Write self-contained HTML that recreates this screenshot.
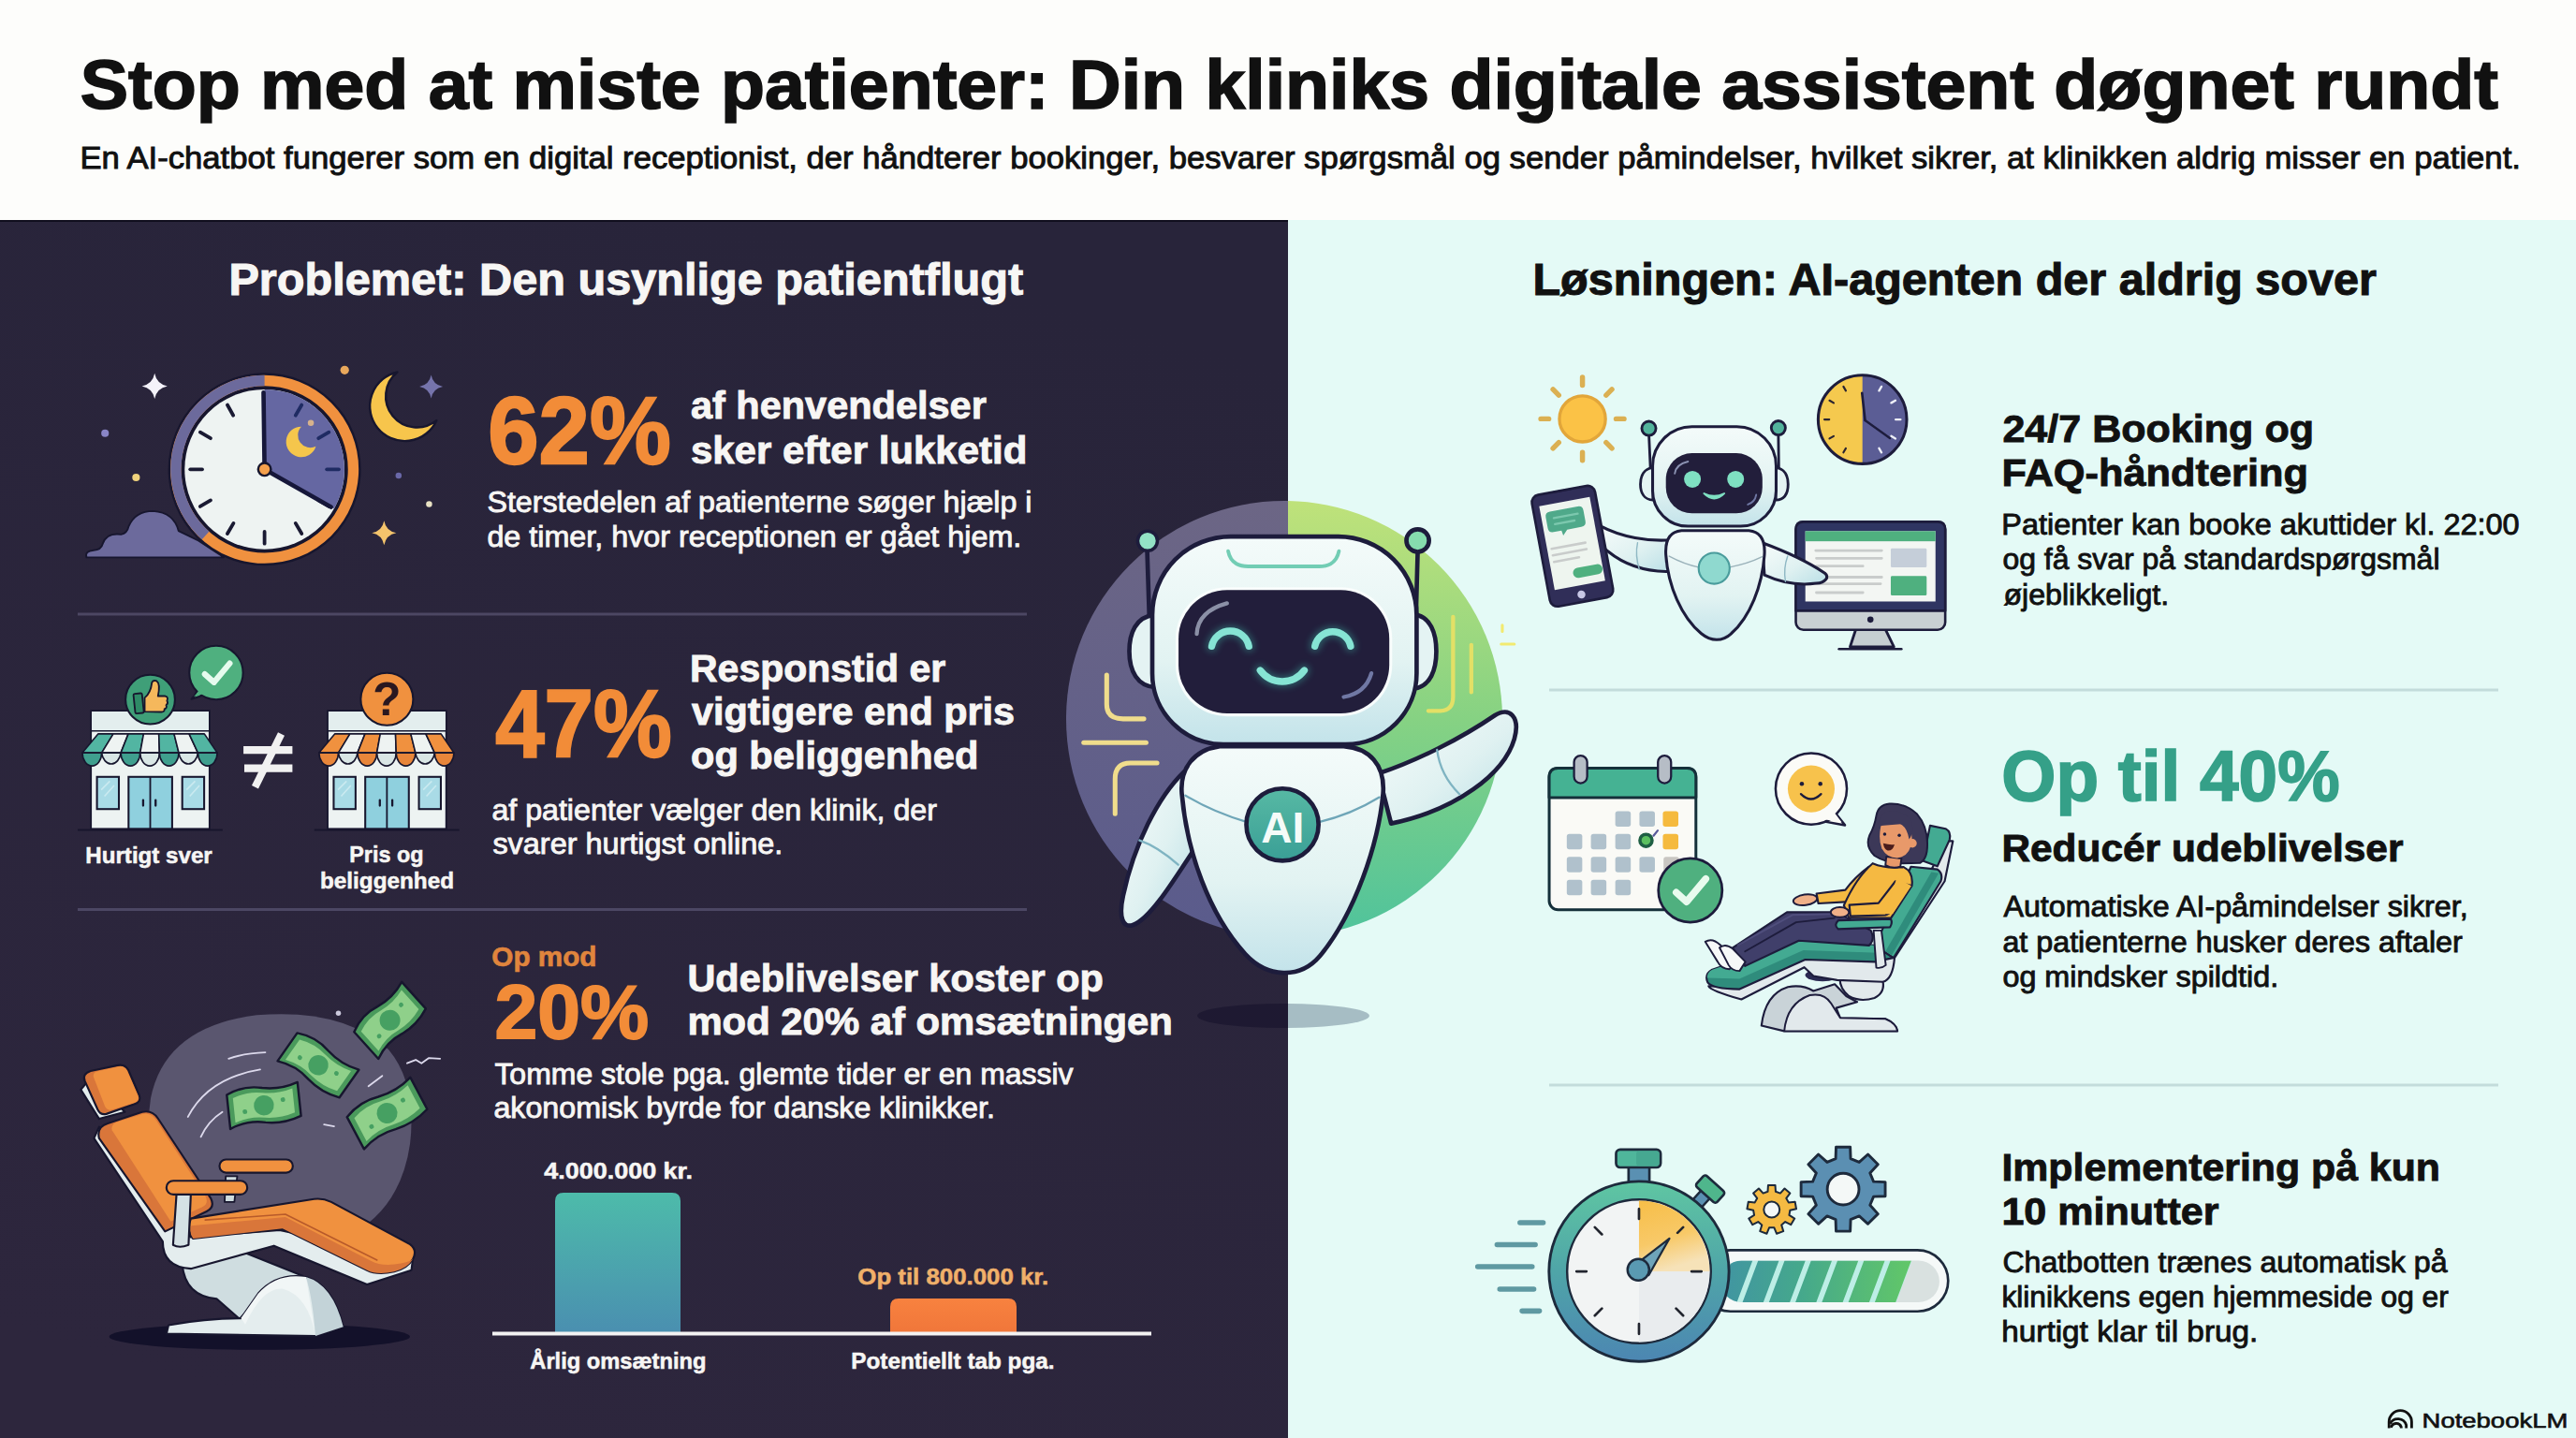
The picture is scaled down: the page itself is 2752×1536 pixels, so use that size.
<!DOCTYPE html>
<html lang="da"><head><meta charset="utf-8"><title>Stop med at miste patienter</title>
<style>
html,body{margin:0;padding:0;background:#fdfdfb;}
body{width:2752px;height:1536px;overflow:hidden;position:relative;}
svg{display:block;position:absolute;left:0;top:0;}
text{font-family:"Liberation Sans",sans-serif;}
</style></head><body>
<svg width="2752" height="1536" viewBox="0 0 2752 1536">
<defs>
<linearGradient id="gBody" x1="0" y1="0" x2="1" y2="1">
<stop offset="0" stop-color="#f7fcfb"/><stop offset="0.55" stop-color="#dff1f1"/><stop offset="1" stop-color="#b9dfe6"/>
</linearGradient>
<linearGradient id="gBodyV" x1="0" y1="0" x2="0" y2="1">
<stop offset="0" stop-color="#f4fbfa"/><stop offset="0.6" stop-color="#e2f3f2"/><stop offset="1" stop-color="#c3e3ea"/>
</linearGradient>
<linearGradient id="gCircR" x1="0" y1="0" x2="0" y2="1">
<stop offset="0" stop-color="#bfe27a"/><stop offset="0.5" stop-color="#86d283"/><stop offset="1" stop-color="#4fc39c"/>
</linearGradient>
<linearGradient id="gCircL" x1="0" y1="0" x2="0" y2="1">
<stop offset="0" stop-color="#6c6685"/><stop offset="1" stop-color="#5a5b8c"/>
</linearGradient>
<linearGradient id="gBadge" x1="0" y1="0" x2="0" y2="1">
<stop offset="0" stop-color="#57b9a4"/><stop offset="1" stop-color="#3a9f96"/>
</linearGradient>
<linearGradient id="gDark" x1="0.6" y1="0" x2="0.3" y2="1"><stop offset="0" stop-color="#28243a"/><stop offset="1" stop-color="#2d263d"/></linearGradient>
<clipPath id="clipL"><rect x="0" y="235" width="1376" height="1301"/></clipPath>
<clipPath id="clipR"><rect x="1376" y="235" width="1376" height="1301"/></clipPath>
<filter id="fGlow" x="-30%" y="-60%" width="160%" height="220%"><feGaussianBlur stdDeviation="9"/></filter>
</defs>

<rect x="0" y="0" width="2752" height="235" fill="#fdfdfb"/>
<rect x="0" y="235" width="1376" height="1301" fill="url(#gDark)"/>
<rect x="0" y="235" width="1376" height="2" fill="#100e1e"/>
<rect x="1376" y="235" width="1376" height="1301" fill="#e4faf6"/>
<g id="dividers">
<rect x="83" y="654.5" width="1014" height="3" fill="#4c4763"/>
<rect x="83" y="970" width="1014" height="3" fill="#4c4763"/>
<rect x="1655" y="735.5" width="1014" height="3" fill="#c3dcdb"/>
<rect x="1655" y="1157.5" width="1014" height="3" fill="#c3dcdb"/>
</g>
<g id="robot">
<circle cx="1372" cy="768" r="233" fill="url(#gCircL)" clip-path="url(#clipL)"/>
<circle cx="1372" cy="768" r="233" fill="url(#gCircR)" clip-path="url(#clipR)"/>
<ellipse cx="1371" cy="1085" rx="92" ry="13" fill="#14112a" opacity="0.55" clip-path="url(#clipL)"/>
<ellipse cx="1371" cy="1085" rx="92" ry="13" fill="#5b7487" opacity="0.45" clip-path="url(#clipR)"/>
<g transform="translate(1120,540) scale(0.38951)" stroke-linecap="round" stroke-linejoin="round">
  <!-- sparkles -->
  <g fill="none" stroke="#f0dd8c" stroke-width="13">
    <path d="M160 465 V545 Q160 585 205 585 H262"/>
    <path d="M97 650 H268"/>
    <path d="M298 706 H225 Q183 706 183 750 V845"/>
  </g>
  <g fill="none" stroke="#e3e066" stroke-width="11">
    <path d="M1110 305 V525 Q1110 562 1075 563 H1042"/>
    <path d="M1160 382 V512"/>
  </g>
  <g fill="none" stroke="#f2ea70" stroke-width="8"><path d="M1245 328 V345 M1242 380 H1278"/></g>
  <!-- antennas -->
  <path d="M277 310 L271 125" stroke="#1d1c3c" stroke-width="12" fill="none"/>
  <path d="M1008 310 L1013 125" stroke="#1d1c3c" stroke-width="12" fill="none"/>
  <circle cx="272" cy="97" r="27" fill="#93e2c6" stroke="#1d1c3c" stroke-width="9"/>
  <circle cx="1013" cy="96" r="31" fill="#86dcae" stroke="#1d1c3c" stroke-width="12"/>
  <!-- left arm -->
  <path d="M372 730 C300 800 235 930 205 1070 C192 1130 205 1160 232 1150 C275 1135 330 1050 395 950 Z" fill="url(#gBody)" stroke="#1d1c3c" stroke-width="12"/>
  <path d="M250 918 Q300 935 356 985" fill="none" stroke="#7fb4c2" stroke-width="6"/>
  <!-- right arm -->
  <path d="M905 735 C1010 700 1130 640 1225 575 C1265 550 1295 580 1278 640 C1250 735 1120 835 940 872 Z" fill="url(#gBody)" stroke="#1d1c3c" stroke-width="12"/>
  <path d="M1066 670 Q1075 740 1128 792" fill="none" stroke="#7fb4c2" stroke-width="6"/>
  <!-- body -->
  <path d="M470 660 C400 670 360 720 366 790 C380 950 440 1120 540 1230 C600 1295 690 1300 745 1235 C840 1120 905 930 918 790 C924 710 880 665 810 660 Z" fill="url(#gBodyV)" stroke="#1d1c3c" stroke-width="12"/>
  <path d="M376 795 Q450 840 545 868 M742 868 Q830 848 908 800" fill="none" stroke="#6fa6b8" stroke-width="6"/>
  <circle cx="642" cy="875" r="99" fill="url(#gBadge)" stroke="#1d1c3c" stroke-width="12"/>
  <!-- ears -->
  <path d="M290 300 C240 305 222 350 222 400 C222 455 245 495 292 498 Z" fill="#e4f3f3" stroke="#1d1c3c" stroke-width="12"/>
  <path d="M1003 298 C1048 304 1064 350 1064 400 C1064 450 1048 496 1003 502 Z" fill="#e4f3f3" stroke="#1d1c3c" stroke-width="12"/>
  <!-- head -->
  <path d="M500 85 H795 A215 215 0 0 1 1010 300 V460 A195 195 0 0 1 815 655 H480 A195 195 0 0 1 285 460 V300 A215 215 0 0 1 500 85 Z" fill="url(#gBodyV)" stroke="#1d1c3c" stroke-width="12"/>
  <path d="M493 125 Q498 150 516 160 Q528 167 548 167 H742 Q762 167 774 160 Q792 150 797 125" fill="none" stroke="#72cdb4" stroke-width="10"/>
  <!-- visor -->
  <rect x="349" y="224" width="594" height="354" rx="141" ry="141" fill="#fbfefd" opacity="0.9"/>
  <rect x="357" y="232" width="578" height="338" rx="133" ry="133" fill="#221e3b"/>
  <path d="M407 352 Q410 290 490 268" fill="none" stroke="#8b90a6" stroke-width="11"/>
  <path d="M810 525 Q870 515 886 460" fill="none" stroke="#7078a4" stroke-width="11"/>
  <g fill="none" stroke="#3fd0b8" stroke-width="30" opacity="0.35" filter="url(#fGlow)"><path d="M448 386 A52 52 0 0 1 550 386"/><path d="M731 386 A50 50 0 0 1 829 386"/><path d="M581 452 A75 75 0 0 0 702 452"/></g>
  <g fill="none" stroke="#86e4d4" stroke-width="19"><path d="M448 386 A52 52 0 0 1 550 386"/><path d="M731 386 A50 50 0 0 1 829 386"/><path d="M581 452 A75 75 0 0 0 702 452"/></g>
</g>
<text x="1370.3" y="899.5" font-size="46" font-weight="700" fill="#f4fbf8" text-anchor="middle">AI</text>
</g>

<g id="clock" transform="translate(0,360) scale(0.27174)" stroke-linecap="round" stroke-linejoin="round">
<path d="M340 866 Q332 842 368 838 Q398 836 404 812 Q420 768 476 776 Q500 772 506 744 Q532 684 602 684 Q684 690 702 762 L780 800 L880 866 Z" fill="#6c6a9c" stroke="#17162e" stroke-width="7"/>
<path d="M608 143 Q616.0 185.0 658 193 Q616.0 201.0 608 243 Q600.0 201.0 558 193 Q600.0 185.0 608 143 Z" fill="#f4f2fa"/>
<path d="M1695 149 Q1702.36 187.64 1741 195 Q1702.36 202.36 1695 241 Q1687.64 202.36 1649 195 Q1687.64 187.64 1695 149 Z" fill="#7674ac"/>
<path d="M1510 722 Q1517.68 762.32 1558 770 Q1517.68 777.68 1510 818 Q1502.32 777.68 1462 770 Q1502.32 762.32 1510 722 Z" fill="#f4c46c"/>
<circle cx="1355" cy="130" r="17" fill="#e9a85c"/>
<circle cx="413" cy="378" r="15" fill="#8985c6"/>
<circle cx="535" cy="552" r="15" fill="#f0d27c"/>
<circle cx="1567" cy="545" r="12" fill="#6a68a8"/>
<circle cx="1687" cy="657" r="12" fill="#e9e2c4"/>
<!-- big moon -->
<path d="M1562 138 A137 137 0 1 0 1716 328 A118 118 0 0 1 1562 138 Z" fill="#f7c54c" stroke="#17162e" stroke-width="9"/>
<!-- ring -->
<circle cx="1040" cy="520" r="379" fill="#17162e"/>
<circle cx="1040" cy="520" r="349" fill="none" stroke="#f0913f" stroke-width="42"/>
<path d="M1040 171 A349 349 0 0 0 808 780" fill="none" stroke="#6c6a9c" stroke-width="42" stroke-linecap="butt"/>
<circle cx="1040" cy="520" r="324" fill="#17162e"/>
<circle cx="1040" cy="520" r="314" fill="#eef3f2"/>
<path d="M1040 520 L1040 206 A314 314 0 0 1 1313 675 Z" fill="#6567a2"/>
<g stroke-width="14" fill="none">
<path d="M1162 308 L1186 267" stroke="#1f2b63"/>
<path d="M1252 398 L1293 374" stroke="#1f2b63"/>
<path d="M1285 520 L1332 520" stroke="#1f2b63"/>
<path d="M1252 642 L1293 666" stroke="#1a1a33"/>
<path d="M1162 732 L1186 773" stroke="#1a1a33"/>
<path d="M1040 765 L1040 812" stroke="#1a1a33"/>
<path d="M918 732 L894 773" stroke="#1a1a33"/>
<path d="M828 642 L787 666" stroke="#1a1a33"/>
<path d="M795 520 L748 520" stroke="#1a1a33"/>
<path d="M828 398 L787 374" stroke="#1a1a33"/>
<path d="M917 308 L894 267" stroke="#1a1a33"/>
</g>
<path d="M1185 352 A60 60 0 1 0 1242 430 A49 49 0 0 1 1185 352 Z" fill="#f5c64c"/>
<circle cx="1222" cy="338" r="12" fill="#d6b28c"/>
<path d="M1040 520 L1036 218" stroke="#16173a" stroke-width="17" fill="none"/>
<path d="M1040 520 L1301 668" stroke="#16173a" stroke-width="17" fill="none"/>
<circle cx="1040" cy="520" r="25" fill="#f5a04c" stroke="#17162e" stroke-width="9"/>
</g>
<g id="shops" transform="translate(60,660) scale(0.22946)">
<g transform="translate(0,0)">
<path d="M100 987 H775" stroke="#14122a" stroke-width="9" opacity="0.8"/>
<rect x="162" y="432" width="552" height="550" fill="#edf3f2" stroke="#17162e" stroke-width="8"/>
<rect x="166" y="436" width="544" height="88" fill="#e3eeee"/>
<path d="M162 526 H714" stroke="#17162e" stroke-width="7"/>
<rect x="190" y="740" width="102" height="150" fill="#a9dbe6" stroke="#17162e" stroke-width="9"/>
<path d="M210 800 L250 760 M225 830 L270 780" stroke="#d3eef3" stroke-width="7" opacity="0.8"/>
<rect x="587" y="740" width="102" height="150" fill="#a9dbe6" stroke="#17162e" stroke-width="9"/>
<path d="M607 800 L647 760 M622 830 L667 780" stroke="#d3eef3" stroke-width="7" opacity="0.8"/>
<rect x="337" y="740" width="203" height="242" fill="#8fd0de" stroke="#17162e" stroke-width="9"/>
<path d="M438 740 V982" stroke="#17162e" stroke-width="8"/>
<path d="M405 848 V874 M463 848 V874" stroke="#17162e" stroke-width="10" stroke-linecap="round"/>
<path d="M195 540 L266 540 L212 628 L122 628 Z" fill="#52b5a2" stroke="#17162e" stroke-width="7" stroke-linejoin="round"/>
<path d="M122 628 H212 A45 61 0 0 1 122 628 Z" fill="#3f9f8e" stroke="#17162e" stroke-width="7" stroke-linejoin="round"/>
<path d="M266 540 L336 540 L301 628 L212 628 Z" fill="#eef3f2" stroke="#17162e" stroke-width="7" stroke-linejoin="round"/>
<path d="M212 628 H301 A45 61 0 0 1 212 628 Z" fill="#d9e6e5" stroke="#17162e" stroke-width="7" stroke-linejoin="round"/>
<path d="M336 540 L407 540 L391 628 L301 628 Z" fill="#52b5a2" stroke="#17162e" stroke-width="7" stroke-linejoin="round"/>
<path d="M301 628 H391 A45 61 0 0 1 301 628 Z" fill="#3f9f8e" stroke="#17162e" stroke-width="7" stroke-linejoin="round"/>
<path d="M407 540 L478 540 L481 628 L391 628 Z" fill="#eef3f2" stroke="#17162e" stroke-width="7" stroke-linejoin="round"/>
<path d="M391 628 H481 A45 61 0 0 1 391 628 Z" fill="#d9e6e5" stroke="#17162e" stroke-width="7" stroke-linejoin="round"/>
<path d="M478 540 L549 540 L571 628 L481 628 Z" fill="#52b5a2" stroke="#17162e" stroke-width="7" stroke-linejoin="round"/>
<path d="M481 628 H571 A45 61 0 0 1 481 628 Z" fill="#3f9f8e" stroke="#17162e" stroke-width="7" stroke-linejoin="round"/>
<path d="M549 540 L619 540 L660 628 L571 628 Z" fill="#eef3f2" stroke="#17162e" stroke-width="7" stroke-linejoin="round"/>
<path d="M571 628 H660 A45 61 0 0 1 571 628 Z" fill="#d9e6e5" stroke="#17162e" stroke-width="7" stroke-linejoin="round"/>
<path d="M619 540 L690 540 L750 628 L660 628 Z" fill="#52b5a2" stroke="#17162e" stroke-width="7" stroke-linejoin="round"/>
<path d="M660 628 H750 A45 61 0 0 1 660 628 Z" fill="#3f9f8e" stroke="#17162e" stroke-width="7" stroke-linejoin="round"/>
<circle cx="438" cy="380" r="115" fill="#3f9f78" stroke="#17162e" stroke-width="9"/>
<rect x="364" y="352" width="40" height="92" rx="6" fill="#2e8a66" stroke="#17162e" stroke-width="8" transform="rotate(-6 384 398)"/>
<path d="M412 436 V372 Q440 350 446 300 Q452 288 468 294 Q486 306 474 364 H508 Q524 368 516 386 Q524 398 512 406 Q518 420 504 424 Q506 438 490 438 Z" fill="#f5b85c" stroke="#17162e" stroke-width="8" stroke-linejoin="round"/>
<path d="M630 378 Q660 350 655 320 L700 355 Z" fill="#4fb07f" stroke="#17162e" stroke-width="9" stroke-linejoin="round"/>
<circle cx="745" cy="255" r="125" fill="#4fb07f" stroke="#17162e" stroke-width="9"/>
<path d="M640 365 Q665 345 668 322 L705 350 Z" fill="#4fb07f"/>
<path d="M692 262 L735 300 L808 212" fill="none" stroke="#e6fbee" stroke-width="27" stroke-linecap="round" stroke-linejoin="round"/>
</g><g transform="translate(1102,0)">
<path d="M100 987 H775" stroke="#14122a" stroke-width="9" opacity="0.8"/>
<rect x="162" y="432" width="552" height="550" fill="#edf3f2" stroke="#17162e" stroke-width="8"/>
<rect x="166" y="436" width="544" height="88" fill="#e3eeee"/>
<path d="M162 526 H714" stroke="#17162e" stroke-width="7"/>
<rect x="190" y="740" width="102" height="150" fill="#a9dbe6" stroke="#17162e" stroke-width="9"/>
<path d="M210 800 L250 760 M225 830 L270 780" stroke="#d3eef3" stroke-width="7" opacity="0.8"/>
<rect x="587" y="740" width="102" height="150" fill="#a9dbe6" stroke="#17162e" stroke-width="9"/>
<path d="M607 800 L647 760 M622 830 L667 780" stroke="#d3eef3" stroke-width="7" opacity="0.8"/>
<rect x="337" y="740" width="203" height="242" fill="#8fd0de" stroke="#17162e" stroke-width="9"/>
<path d="M438 740 V982" stroke="#17162e" stroke-width="8"/>
<path d="M405 848 V874 M463 848 V874" stroke="#17162e" stroke-width="10" stroke-linecap="round"/>
<path d="M195 540 L266 540 L212 628 L122 628 Z" fill="#f0913f" stroke="#17162e" stroke-width="7" stroke-linejoin="round"/>
<path d="M122 628 H212 A45 61 0 0 1 122 628 Z" fill="#e8863a" stroke="#17162e" stroke-width="7" stroke-linejoin="round"/>
<path d="M266 540 L336 540 L301 628 L212 628 Z" fill="#eef3f2" stroke="#17162e" stroke-width="7" stroke-linejoin="round"/>
<path d="M212 628 H301 A45 61 0 0 1 212 628 Z" fill="#d9e6e5" stroke="#17162e" stroke-width="7" stroke-linejoin="round"/>
<path d="M336 540 L407 540 L391 628 L301 628 Z" fill="#f0913f" stroke="#17162e" stroke-width="7" stroke-linejoin="round"/>
<path d="M301 628 H391 A45 61 0 0 1 301 628 Z" fill="#e8863a" stroke="#17162e" stroke-width="7" stroke-linejoin="round"/>
<path d="M407 540 L478 540 L481 628 L391 628 Z" fill="#eef3f2" stroke="#17162e" stroke-width="7" stroke-linejoin="round"/>
<path d="M391 628 H481 A45 61 0 0 1 391 628 Z" fill="#d9e6e5" stroke="#17162e" stroke-width="7" stroke-linejoin="round"/>
<path d="M478 540 L549 540 L571 628 L481 628 Z" fill="#f0913f" stroke="#17162e" stroke-width="7" stroke-linejoin="round"/>
<path d="M481 628 H571 A45 61 0 0 1 481 628 Z" fill="#e8863a" stroke="#17162e" stroke-width="7" stroke-linejoin="round"/>
<path d="M549 540 L619 540 L660 628 L571 628 Z" fill="#eef3f2" stroke="#17162e" stroke-width="7" stroke-linejoin="round"/>
<path d="M571 628 H660 A45 61 0 0 1 571 628 Z" fill="#d9e6e5" stroke="#17162e" stroke-width="7" stroke-linejoin="round"/>
<path d="M619 540 L690 540 L750 628 L660 628 Z" fill="#f0913f" stroke="#17162e" stroke-width="7" stroke-linejoin="round"/>
<path d="M660 628 H750 A45 61 0 0 1 660 628 Z" fill="#e8863a" stroke="#17162e" stroke-width="7" stroke-linejoin="round"/>
<circle cx="438" cy="378" r="122" fill="#f0913f" stroke="#17162e" stroke-width="9"/>
<text x="438" y="452" font-size="215" font-weight="700" fill="#2a1820" text-anchor="middle">?</text>
</g><g stroke="#f1f1f1" stroke-width="36" stroke-linecap="butt"><path d="M872 615 H1100 M876 700 H1100"/><path d="M1048 540 L926 788" stroke-width="34"/></g>
</g>
<g id="chair" transform="translate(60,1020) scale(0.30609)" stroke-linecap="round" stroke-linejoin="round">
<path d="M330 500 Q380 250 700 210 Q1000 185 1160 330 Q1260 450 1235 660 Q1200 900 1000 990 L 400 1000 Q290 800 330 500 Z" fill="#5a566f"/>
<ellipse cx="710" cy="1332" rx="525" ry="46" fill="#13112a"/>
<!-- base -->
<path d="M440 1080 Q450 1190 560 1200 L640 1270 L720 1190 L860 1120 L660 1040 Z" fill="#cfdde0" stroke="#17162e" stroke-width="7"/>
<path d="M385 1322 L392 1292 Q520 1268 645 1268 L705 1182 Q770 1108 872 1124 Q965 1150 1002 1298 L905 1330 Z" fill="#e4edee" stroke="#17162e" stroke-width="7"/>
<path d="M645 1268 L705 1182 Q770 1108 872 1124 L905 1330 Q880 1190 790 1165 Q720 1160 660 1290 Z" fill="#f1f6f6"/>
<path d="M872 1124 Q965 1150 1002 1298 L905 1330 Q895 1200 872 1124 Z" fill="#c3d3d8"/>
<!-- white shell under seat -->
<path d="M132 640 L372 1000 Q372 1090 470 1095 L760 1015 L1085 1150 L1240 1100 L1245 1060 L780 960 L470 985 L150 600 Z" fill="#e4edee" stroke="#17162e" stroke-width="7"/>
<!-- headrest -->
<path d="M86 470 L150 572 L240 548 L120 430 Z" fill="#e4edee" stroke="#17162e" stroke-width="7"/>
<path d="M100 440 Q90 415 120 405 L215 385 Q240 380 252 402 L290 490 Q298 512 274 520 L175 555 Q155 560 145 540 Z" fill="#d9763a" stroke="#17162e" stroke-width="7"/>
<path d="M130 425 Q128 410 145 406 L215 390 Q238 385 248 405 L285 490 Q292 510 272 516 L195 540 Q178 545 170 528 Z" fill="#f0913f"/>
<!-- backrest -->
<path d="M150 640 Q140 600 180 588 L300 548 Q335 540 355 570 L540 850 Q555 880 525 895 L380 965 Z" fill="#d9763a" stroke="#17162e" stroke-width="7"/>
<path d="M195 612 Q190 590 215 582 L300 555 Q330 548 348 575 L520 840 Q535 868 510 880 L400 930 Z" fill="#f0913f"/>
<!-- seat and legrest -->
<path d="M470 920 L900 852 Q930 848 960 862 L1235 1010 Q1262 1030 1245 1062 Q1225 1095 1180 1105 Q1120 1118 1085 1100 L790 955 L478 990 Q455 960 470 920 Z" fill="#f0913f" stroke="#17162e" stroke-width="7"/>
<path d="M478 990 L790 955 L1085 1100 Q1120 1118 1180 1105 Q1225 1095 1245 1062 Q1230 1075 1180 1080 Q1130 1085 1100 1068 L800 915 L472 945 Q462 965 478 990 Z" fill="#d9763a"/>
<path d="M520 925 L800 905 L1120 1065" fill="none" stroke="#b85a2a" stroke-width="5"/>
<!-- armrests -->
<path d="M592 772 L588 862 L622 862 L632 772 Z" fill="#cfdde0" stroke="#17162e" stroke-width="6"/>
<rect x="570" y="714" width="256" height="46" rx="23" fill="#f0913f" stroke="#17162e" stroke-width="7"/>
<path d="M420 835 L408 1012 Q430 1025 462 1012 L470 835 Z" fill="#d5e2e5" stroke="#17162e" stroke-width="7"/>
<rect x="385" y="788" width="282" height="48" rx="24" fill="#f0913f" stroke="#17162e" stroke-width="7"/>
<!-- bills -->
<g transform="translate(725,525) rotate(-6)"><path d="M-125.0 -50.0 Q-62.5 -78.0 0 -61.2 Q62.5 -47.2 125.0 -68.2 L125.0 50.0 Q62.5 72.4 0 59.8 Q-62.5 44.400000000000006 -125.0 69.6 Z" fill="#4a9a5c" stroke="#17162e" stroke-width="8" stroke-linejoin="round"/><path d="M-125.0 -50.0 Q-62.5 -78.0 0 -61.2 Q62.5 -47.2 125.0 -68.2 L125.0 50.0 Q62.5 72.4 0 59.8 Q-62.5 44.400000000000006 -125.0 69.6 Z" fill="#8fd08a" transform="scale(0.84,0.72)"/><circle cx="0" cy="0" r="35" fill="#46a062"/><circle cx="-68" cy="15" r="8" fill="#46a062"/><circle cx="68" cy="-13" r="8" fill="#46a062"/></g>
<g transform="translate(915,385) rotate(35)"><path d="M-125.0 -50.0 Q-62.5 -78.0 0 -61.2 Q62.5 -47.2 125.0 -68.2 L125.0 50.0 Q62.5 72.4 0 59.8 Q-62.5 44.400000000000006 -125.0 69.6 Z" fill="#4a9a5c" stroke="#17162e" stroke-width="8" stroke-linejoin="round"/><path d="M-125.0 -50.0 Q-62.5 -78.0 0 -61.2 Q62.5 -47.2 125.0 -68.2 L125.0 50.0 Q62.5 72.4 0 59.8 Q-62.5 44.400000000000006 -125.0 69.6 Z" fill="#8fd08a" transform="scale(0.84,0.72)"/><circle cx="0" cy="0" r="35" fill="#46a062"/><circle cx="-68" cy="15" r="8" fill="#46a062"/><circle cx="68" cy="-13" r="8" fill="#46a062"/></g>
<g transform="translate(1165,228) rotate(-42)"><path d="M-120.0 -53.5 Q-60.0 -81.5 0 -64.7 Q60.0 -50.7 120.0 -71.7 L120.0 53.5 Q60.0 75.9 0 63.3 Q-60.0 47.900000000000006 -120.0 73.1 Z" fill="#4a9a5c" stroke="#17162e" stroke-width="8" stroke-linejoin="round"/><path d="M-120.0 -53.5 Q-60.0 -81.5 0 -64.7 Q60.0 -50.7 120.0 -71.7 L120.0 53.5 Q60.0 75.9 0 63.3 Q-60.0 47.900000000000006 -120.0 73.1 Z" fill="#8fd08a" transform="scale(0.84,0.72)"/><circle cx="0" cy="0" r="36" fill="#46a062"/><circle cx="-65" cy="16" r="8" fill="#46a062"/><circle cx="65" cy="-14" r="8" fill="#46a062"/></g>
<g transform="translate(1155,552) rotate(-28)"><path d="M-130.0 -53.5 Q-65.0 -81.5 0 -64.7 Q65.0 -50.7 130.0 -71.7 L130.0 53.5 Q65.0 75.9 0 63.3 Q-65.0 47.900000000000006 -130.0 73.1 Z" fill="#4a9a5c" stroke="#17162e" stroke-width="8" stroke-linejoin="round"/><path d="M-130.0 -53.5 Q-65.0 -81.5 0 -64.7 Q65.0 -50.7 130.0 -71.7 L130.0 53.5 Q65.0 75.9 0 63.3 Q-65.0 47.900000000000006 -130.0 73.1 Z" fill="#8fd08a" transform="scale(0.84,0.72)"/><circle cx="0" cy="0" r="36" fill="#46a062"/><circle cx="-70" cy="16" r="8" fill="#46a062"/><circle cx="70" cy="-14" r="8" fill="#46a062"/></g>
<g fill="none" stroke="#dcd9ec" stroke-width="6">
<path d="M602 362 Q660 342 730 340"/>
<path d="M460 565 Q530 430 712 400"/>
<path d="M505 635 Q530 580 580 548"/>
<path d="M1090 458 L1138 422"/>
<path d="M935 592 L970 598"/>
<path d="M1225 378 L1255 366 L1275 378 L1300 360 L1340 362"/>
</g>
<circle cx="985" cy="203" r="9" fill="#cbc8dc"/>
</g>
<g id="chart">
<defs><linearGradient id="gBar1" x1="0" y1="0" x2="0" y2="1"><stop offset="0" stop-color="#4dbbaa"/><stop offset="1" stop-color="#4a8fb0"/></linearGradient>
<linearGradient id="gBar2" x1="0" y1="0" x2="0" y2="1"><stop offset="0" stop-color="#f8823f"/><stop offset="1" stop-color="#f0763a"/></linearGradient></defs>
<path d="M593 1424 V1283 Q593 1274 602 1274 H718 Q727 1274 727 1283 V1424 Z" fill="url(#gBar1)"/>
<path d="M951 1424 V1396 Q951 1387 960 1387 H1077 Q1086 1387 1086 1396 V1424 Z" fill="url(#gBar2)"/>
<rect x="526" y="1422.5" width="704" height="4" fill="#f3f2f2"/>
</g>
<g id="bot2" transform="translate(1600,380) scale(0.23647)" stroke-linecap="round" stroke-linejoin="round">
<!-- sun -->
<path d="M383 133 L383 97 M490 178 L516 152 M535 285 L571 285 M490 392 L516 418 M383 437 L383 473 M276 392 L250 418 M231 285 L195 285 M276 178 L250 152" stroke="#dbb052" stroke-width="23" fill="none"/>
<circle cx="383" cy="285" r="104" fill="#fbc246" stroke="#e2a63a" stroke-width="14"/>
<!-- clock -->
<circle cx="1648" cy="288" r="200" fill="#f5c94e"/>
<path d="M1648 88 A200 200 0 0 1 1648 488 Z" fill="#5b5d95"/>
<circle cx="1648" cy="288" r="200" fill="none" stroke="#1d1c3c" stroke-width="13"/>
<path d="M1573 418 L1562 437 M1518 363 L1499 374 M1498 288 L1476 288 M1518 213 L1499 202 M1573 158 L1562 139" stroke="#2a2430" stroke-width="9" fill="none"/>
<path d="M1723 158 L1734 139 M1778 213 L1797 202 M1798 288 L1820 288 M1778 363 L1797 374 M1723 418 L1734 437" stroke="#eef0f8" stroke-width="10" fill="none"/>
<path d="M1660 292 L1646 168" stroke="#1d1c3c" stroke-width="11" fill="none"/>
<path d="M1660 292 L1772 372" stroke="#1d1c3c" stroke-width="10" fill="none"/>
<!-- monitor -->
<path d="M1618 1236 L1592 1315 H1790 L1752 1236 Z" fill="#c6ced1" stroke="#1d1c3c" stroke-width="12"/>
<path d="M1542 1325 H1824" stroke="#1d1c3c" stroke-width="11"/>
<rect x="1347" y="750" width="675" height="488" rx="34" fill="#c9d0d3" stroke="#1d1c3c" stroke-width="11"/>
<path d="M1347 1152 V784 Q1347 750 1381 750 H1988 Q2022 750 2022 784 V1152 Z" fill="#2f3562" stroke="#1d1c3c" stroke-width="11"/>
<circle cx="1684" cy="1192" r="14" fill="#1d1c3c"/>
<rect x="1390" y="792" width="588" height="318" fill="#f3f6f3"/>
<rect x="1390" y="792" width="588" height="46" fill="#4fb07f"/>
<g stroke="#c9cccb" stroke-width="12" fill="none"><path d="M1437 880 H1735 M1440 915 H1735 M1440 950 H1650 M1440 1000 H1735 M1440 1030 H1730 M1440 1070 H1650"/></g>
<rect x="1776" y="870" width="162" height="86" rx="6" fill="#c5ced9"/>
<rect x="1776" y="995" width="162" height="88" rx="6" fill="#4fb07f"/>
<!-- antennas -->
<path d="M690 505 L683 350 M1270 505 L1268 350" stroke="#1d1c3c" stroke-width="12" fill="none"/>
<circle cx="683" cy="328" r="32" fill="#52b39c" stroke="#1d1c3c" stroke-width="12"/>
<circle cx="1268" cy="326" r="32" fill="#52b39c" stroke="#1d1c3c" stroke-width="12"/>
<!-- arms -->
<path d="M785 832 C680 840 560 820 462 768 C440 790 450 850 500 885 C580 950 680 975 775 975 Z" fill="url(#gBody)" stroke="#1d1c3c" stroke-width="13"/>
<path d="M632 845 Q620 900 640 965" fill="none" stroke="#8fb8c4" stroke-width="6"/>
<path d="M1195 845 C1290 880 1400 930 1478 982 C1500 1000 1480 1025 1440 1028 C1350 1040 1270 1020 1205 990 Z" fill="url(#gBody)" stroke="#1d1c3c" stroke-width="13"/>
<path d="M1310 905 Q1290 960 1300 1020" fill="none" stroke="#8fb8c4" stroke-width="6"/>
<!-- body -->
<path d="M830 790 C780 795 755 830 760 900 C770 1040 830 1180 920 1255 C965 1292 1015 1292 1055 1255 C1140 1180 1195 1040 1205 900 C1210 830 1185 795 1135 790 Z" fill="url(#gBodyV)" stroke="#1d1c3c" stroke-width="13"/>
<path d="M775 905 Q840 940 908 955 M1048 955 Q1130 940 1195 908" fill="none" stroke="#9ab2ba" stroke-width="6"/>
<circle cx="978" cy="960" r="70" fill="#8fd9cf" stroke="#4a9c9c" stroke-width="9"/>
<!-- ears -->
<path d="M702 505 C660 510 645 545 645 580 C645 620 662 650 702 652 Z" fill="#e4f3f3" stroke="#1d1c3c" stroke-width="12"/>
<path d="M1256 505 C1298 510 1312 545 1312 580 C1312 620 1296 650 1256 652 Z" fill="#e4f3f3" stroke="#1d1c3c" stroke-width="12"/>
<!-- head -->
<path d="M880 320 H1080 A178 178 0 0 1 1258 498 V610 A160 160 0 0 1 1098 770 H860 A160 160 0 0 1 700 610 V498 A178 178 0 0 1 880 320 Z" fill="url(#gBodyV)" stroke="#1d1c3c" stroke-width="13"/>
<rect x="760" y="440" width="436" height="272" rx="118" fill="#221e3b"/>
<path d="M800 532 Q806 490 860 478" fill="none" stroke="#8b92b2" stroke-width="8"/>
<path d="M1130 672 Q1162 662 1168 628" fill="none" stroke="#7078a4" stroke-width="8"/>
<circle cx="880" cy="558" r="38" fill="#7fe0c2"/><circle cx="1075" cy="558" r="38" fill="#7fe0c2"/>
<path d="M932 622 Q978 668 1024 622 Q978 645 932 622 Z" fill="#7fe0c2" stroke="#7fe0c2" stroke-width="8"/>
<!-- phone -->
<g transform="translate(338,860) rotate(-10.5)">
<rect x="-145" y="-256" width="290" height="512" rx="34" fill="#302e58" stroke="#1d1c3c" stroke-width="11"/>
<rect x="-115" y="-205" width="232" height="385" fill="#eef5ef"/>
<path d="M-40 -255 H40" stroke="#1d1c3c" stroke-width="8"/>
<path d="M-95 -150 Q-95 -172 -72 -172 H55 Q78 -172 78 -150 V-100 Q78 -78 55 -78 H-10 L-32 -55 L-36 -78 H-72 Q-95 -78 -95 -100 Z" fill="#4fa98a"/>
<path d="M-60 -140 H50 M-60 -112 H30" stroke="#7cc8ae" stroke-width="10"/>
<path d="M-95 -5 H60 M-95 25 H60 M-95 55 H20" stroke="#c9cccb" stroke-width="11"/>
<rect x="-20" y="100" width="135" height="46" rx="23" fill="#4fb07f"/>
<circle cx="0" cy="222" r="18" fill="#c8c8e6"/>
</g>
</g>
<g id="calendar"><g transform="translate(1620,780) scale(0.25037)" stroke-linecap="round" stroke-linejoin="round">
<rect x="140" y="162" width="626" height="604" rx="38" fill="#fafaf6" stroke="#15303a" stroke-width="12"/>
<path d="M140 288 V200 Q140 162 178 162 H728 Q766 162 766 200 V288 Z" fill="#45b293" stroke="#15303a" stroke-width="12"/>
<rect x="246" y="108" width="56" height="118" rx="28" fill="#b6bdc6" stroke="#1d1c3c" stroke-width="9"/>
<rect x="604" y="108" width="56" height="118" rx="28" fill="#b6bdc6" stroke="#1d1c3c" stroke-width="9"/>
<rect x="422" y="345" width="66" height="66" rx="11" fill="#b0c1cc"/><rect x="525" y="345" width="66" height="66" rx="11" fill="#b0c1cc"/><rect x="625" y="345" width="66" height="66" rx="11" fill="#f5ba3e"/><rect x="215" y="442" width="66" height="66" rx="11" fill="#b0c1cc"/><rect x="318" y="442" width="66" height="66" rx="11" fill="#b0c1cc"/><rect x="422" y="442" width="66" height="66" rx="11" fill="#b0c1cc"/><rect x="625" y="442" width="66" height="66" rx="11" fill="#f5ba3e"/><rect x="215" y="540" width="66" height="66" rx="11" fill="#b0c1cc"/><rect x="318" y="540" width="66" height="66" rx="11" fill="#b0c1cc"/><rect x="422" y="540" width="66" height="66" rx="11" fill="#b0c1cc"/><rect x="525" y="540" width="66" height="66" rx="11" fill="#b0c1cc"/><rect x="628" y="540" width="66" height="66" rx="11" fill="#c9c6c2"/><rect x="215" y="638" width="66" height="66" rx="11" fill="#b0c1cc"/><rect x="318" y="638" width="66" height="66" rx="11" fill="#b0c1cc"/><rect x="422" y="638" width="66" height="66" rx="11" fill="#b0c1cc"/>
<circle cx="553" cy="470" r="26" fill="#5cc060" stroke="#1f5f44" stroke-width="14"/>
<path d="M585 450 L603 428" stroke="#5a5a9a" stroke-width="9"/>
<circle cx="742" cy="683" r="136" fill="#4fb07f" stroke="#1d1c3c" stroke-width="11"/>
<path d="M682 692 L726 732 L808 634" fill="none" stroke="#e8fbee" stroke-width="30"/>
<!-- bubble -->
<path d="M1350 340 L1402 405 L1290 385 Z" fill="#fbfbf7" stroke="#1d1c3c" stroke-width="10"/>
<circle cx="1258" cy="250" r="152" fill="#fbfbf7" stroke="#1d1c3c" stroke-width="10"/>
<path d="M1340 330 L1388 392 L1300 378 Z" fill="#fbfbf7"/>
<circle cx="1258" cy="250" r="100" fill="#f7c24c"/>
<circle cx="1218" cy="229" r="9" fill="#1d1c3c"/><circle cx="1297" cy="229" r="9" fill="#1d1c3c"/>
<path d="M1214 272 Q1257 315 1300 272" fill="none" stroke="#1d1c3c" stroke-width="9"/>
</g><g transform="translate(1800,840) scale(0.19477)" stroke-linecap="round" stroke-linejoin="round">
<!-- base -->
<path d="M850 1055 L1085 1065 Q1100 1130 1040 1160 Q960 1185 900 1150 Q850 1110 850 1055 Z" fill="#e2e9ec" stroke="#1d1c3c" stroke-width="11"/>
<ellipse cx="755" cy="1035" rx="95" ry="34" fill="#2a2a52"/>
<path d="M420 1312 Q440 1140 565 1100 Q645 1085 705 1122 L822 1085 L885 1150 L945 1182 L830 1215 L852 1270 L1100 1275 Q1160 1300 1166 1342 L545 1342 Z" fill="#c9d3d8" stroke="#1d1c3c" stroke-width="11"/>
<path d="M545 1342 Q560 1190 685 1145 Q765 1130 802 1190 L852 1270 L1100 1275 Q1160 1300 1166 1342 Z" fill="#e2e9ec" stroke="#1d1c3c" stroke-width="10"/>
<!-- shell -->
<path d="M130 1095 Q140 1120 310 1168 L655 992 L705 1040 L835 1062 L1085 1072 Q1140 1060 1150 940 L1425 520 L1470 300 L1440 300 L1100 900 L650 940 L300 1100 Z" fill="#e2e9ec" stroke="#1d1c3c" stroke-width="11"/>
<!-- headrest -->
<path d="M1345 215 L1430 232 Q1462 250 1452 292 L1385 438 L1305 408 Z" fill="#43aa92" stroke="#1d1c3c" stroke-width="11"/>
<!-- backrest -->
<path d="M1240 440 L1385 455 Q1418 478 1404 520 L1145 940 L1040 880 Z" fill="#43aa92" stroke="#1d1c3c" stroke-width="11"/>
<path d="M1352 470 L1392 476 L1135 925 L1100 905 Z" fill="#2f8c7c"/>
<!-- seat -->
<path d="M1040 872 L625 842 L150 1005 Q105 1030 125 1075 Q150 1110 300 1112 L660 950 L1040 962 L1142 940 Z" fill="#2f8c7c" stroke="#1d1c3c" stroke-width="11"/>
<path d="M1040 872 L625 842 L150 1005 Q120 1020 122 1050 L300 1055 L650 898 L1060 912 Z" fill="#43aa92"/>
<!-- pants -->
<path d="M560 690 L830 690 L1020 790 Q1045 840 1010 872 L625 846 L330 985 L262 885 Z" fill="#403f6a" stroke="#1d1c3c" stroke-width="11"/>
<path d="M330 905 L610 745 L820 722" fill="none" stroke="#1d1c3c" stroke-width="10"/>
<path d="M290 870 L590 705 L800 700" fill="none" stroke="#5a5888" stroke-width="10" opacity="0.6"/>
<!-- shoes -->
<path d="M112 852 Q150 828 192 868 L290 958 L245 1002 Q200 1002 180 962 Z" fill="#f6f8f8" stroke="#1d1c3c" stroke-width="10"/>
<path d="M190 884 Q222 858 262 890 L332 962 L300 1012 Q258 1012 240 980 Z" fill="#f6f8f8" stroke="#1d1c3c" stroke-width="10"/>
<!-- far arm -->
<ellipse cx="660" cy="622" rx="66" ry="29" fill="#f0b088" stroke="#1d1c3c" stroke-width="10" transform="rotate(-8 660 622)"/>
<path d="M1010 440 Q930 500 880 568 L722 588 L732 642 L905 632 Q965 602 1010 540 Z" fill="#f5b942" stroke="#1d1c3c" stroke-width="11"/>
<!-- torso -->
<path d="M1030 422 Q1100 452 1200 442 Q1255 470 1245 545 L1130 722 L900 722 L872 652 Q940 500 1030 422 Z" fill="#f5b942" stroke="#1d1c3c" stroke-width="11"/>
<!-- near arm -->
<ellipse cx="850" cy="690" rx="50" ry="28" fill="#f0b088" stroke="#1d1c3c" stroke-width="10"/>
<path d="M1155 520 L1062 640 L902 650 L908 712 L1100 706 Q1150 690 1242 545 Z" fill="#f5b942" stroke="#1d1c3c" stroke-width="11"/>
<path d="M1162 500 L1242 545 L1140 700 L1100 700 Z" fill="#f5b942"/>
<!-- armrest -->
<path d="M1035 790 L1078 790 L1102 980 Q1080 1000 1050 994 Z" fill="#e2e9ec" stroke="#1d1c3c" stroke-width="10"/>
<path d="M842 735 L1130 728 Q1140 750 1125 772 L840 782 Q815 760 842 735 Z" fill="#43aa92" stroke="#1d1c3c" stroke-width="11"/>
<!-- hair back -->
<path d="M1050 160 Q1060 100 1122 95 Q1205 90 1272 150 Q1332 220 1330 320 Q1330 400 1290 420 L1190 422 Q1100 420 1040 380 Q988 330 1012 270 Q1040 220 1050 160 Z" fill="#3c3858" stroke="#1d1c3c" stroke-width="10"/>
<!-- neck -->
<path d="M1105 385 L1188 395 L1182 440 Q1140 455 1100 432 Z" fill="#e8996a" stroke="#1d1c3c" stroke-width="10"/>
<!-- face -->
<circle cx="1248" cy="312" r="24" fill="#e8996a"/>
<path d="M1075 215 Q1060 290 1080 340 Q1110 395 1170 392 Q1235 380 1245 300 Q1250 230 1200 205 Z" fill="#e8996a"/>
<path d="M1060 230 Q1100 190 1160 200 Q1215 205 1230 290 Q1262 250 1240 180 Q1180 120 1100 140 Q1060 170 1060 230 Z" fill="#3c3858"/>
<circle cx="1096" cy="262" r="9" fill="#1d1c3c"/><circle cx="1176" cy="268" r="9" fill="#1d1c3c"/>
<path d="M1088 312 Q1125 322 1150 318 Q1140 355 1112 352 Q1092 345 1088 312 Z" fill="#4a1c1c"/>
</g></g>
<g id="stopwatch" transform="translate(1560,1180) scale(0.22257)" stroke-linecap="round" stroke-linejoin="round">
<defs>
<linearGradient id="gRing" x1="0" y1="0" x2="0" y2="1"><stop offset="0" stop-color="#5fc6a2"/><stop offset="0.5" stop-color="#4fa5a8"/><stop offset="1" stop-color="#4c86b2"/></linearGradient>
<linearGradient id="gProg" x1="0" y1="0" x2="1" y2="0"><stop offset="0" stop-color="#3f8dab"/><stop offset="0.5" stop-color="#45a88c"/><stop offset="1" stop-color="#62c768"/></linearGradient>
<linearGradient id="gSect" x1="0" y1="0" x2="0.3" y2="1"><stop offset="0" stop-color="#f7be48"/><stop offset="0.6" stop-color="#f8c968"/><stop offset="1" stop-color="#f6e2b8"/></linearGradient>
<clipPath id="cpTrack"><rect x="1250" y="748" width="1050" height="200" rx="100"/></clipPath>
</defs>
<g stroke="#5f99a2" stroke-width="25" fill="none"><path d="M287 566 H398 M177 672 H360 M84 777 H345 M190 885 H353 M297 990 H380"/></g>
<!-- progress -->
<rect x="1150" y="698" width="1192" height="294" rx="147" fill="#f5f9f8" stroke="#1d2a3c" stroke-width="12"/>
<rect x="1250" y="748" width="1050" height="200" rx="100" fill="#d9e1e0"/>
<g clip-path="url(#cpTrack)"><path d="M1200 748 H2168 L2093 948 H1200 Z" fill="#bdeee6"/>
<path d="M1176 748 H1276 L1201 948 H1101 Z M1303 748 H1403 L1328 948 H1228 Z M1430 748 H1530 L1455 948 H1355 Z M1557 748 H1657 L1582 948 H1482 Z M1684 748 H1784 L1709 948 H1609 Z M1811 748 H1911 L1836 948 H1736 Z M1938 748 H2038 L1963 948 H1863 Z M2065 748 H2165 L2090 948 H1990 Z" fill="url(#gProg)" stroke="none"/></g>
<!-- gears -->
<path d="M1802 259 L1804 203 L1872 203 L1874 259 L1915 276 L1957 238 L2005 286 L1967 328 L1984 369 L2040 371 L2040 439 L1984 441 L1967 482 L2005 524 L1957 572 L1915 534 L1874 551 L1872 607 L1804 607 L1802 551 L1761 534 L1719 572 L1671 524 L1709 482 L1692 441 L1636 439 L1636 371 L1692 369 L1709 328 L1671 286 L1719 238 L1761 276 Z" fill="#5b8fb2" stroke="#1d2a3c" stroke-width="13"/>
<circle cx="1838" cy="405" r="76" fill="#f4f8f7" stroke="#1d2a3c" stroke-width="13"/>
<path d="M1476 417 L1478 386 L1512 386 L1514 417 L1536 425 L1557 402 L1583 425 L1565 449 L1576 469 L1607 466 L1613 500 L1583 507 L1579 530 L1605 546 L1587 576 L1560 562 L1542 577 L1551 607 L1519 619 L1507 590 L1483 590 L1471 619 L1439 607 L1448 577 L1430 562 L1403 576 L1385 546 L1411 530 L1407 507 L1377 500 L1383 466 L1414 469 L1425 449 L1407 425 L1433 402 L1454 425 Z" fill="#f5ba42" stroke="#1d2a3c" stroke-width="9"/>
<circle cx="1495" cy="503" r="38" fill="#f4f8f7" stroke="#1d2a3c" stroke-width="9"/>
<!-- buttons -->
<rect x="808" y="290" width="100" height="95" fill="#5a90b2" stroke="#1d2a3c" stroke-width="12"/>
<rect x="748" y="215" width="214" height="86" rx="20" fill="#4fb69b" stroke="#1d2a3c" stroke-width="12"/>
<rect x="845" y="222" width="110" height="72" rx="14" fill="#43a58f" opacity="0.8"/>
<g transform="translate(1200,405) rotate(42)"><rect x="-28" y="20" width="56" height="90" fill="#5a90b2" stroke="#1d2a3c" stroke-width="11"/><rect x="-66" y="-36" width="132" height="72" rx="14" fill="#4fb68c" stroke="#1d2a3c" stroke-width="12"/></g>
<!-- watch -->
<circle cx="858" cy="800" r="432" fill="url(#gRing)" stroke="#1d2a3c" stroke-width="13"/>
<circle cx="858" cy="800" r="345" fill="#f2f4f4" stroke="#1d2a3c" stroke-width="11"/>
<path d="M858 800 L1197 800 A339 339 0 0 1 858 1139 Z" fill="#e9ecee"/>
<path d="M858 800 L858 461 A339 339 0 0 1 1197 800 Z" fill="url(#gSect)"/>
<path d="M858 548 L858 500 M1110 800 L1158 800 M1036 978 L1070 1012 M858 1052 L858 1100 M680 978 L646 1012 M606 800 L558 800 M680 622 L646 588 M1043 615 L1070 588" stroke="#22252e" stroke-width="12" fill="none"/>
<path d="M838 770 L1004 642 L905 818 Z" fill="#6ea4ba" stroke="#1d2a3c" stroke-width="10"/>
<circle cx="855" cy="792" r="52" fill="#5a9ab2" stroke="#1d2a3c" stroke-width="11"/>
</g>
<g id="logo" transform="translate(2500,1476) scale(0.09785)" fill="none" stroke="#111" stroke-width="29" stroke-linecap="butt" stroke-linejoin="round">
<path d="M534 507 V437 A123.5 123.5 0 0 1 781 437 V507"/>
<path d="M546 456 A96 96 0 0 1 722 472 V507"/>
<path d="M556 500 A58 58 0 0 1 667 492 V507"/>
</g>

<g id="texts">
<text x="85.7" y="115.68" font-size="74.3" font-weight="700" fill="#111111" stroke="#111111" stroke-width="1.63" textLength="2583.2" lengthAdjust="spacingAndGlyphs">Stop med at miste patienter: Din kliniks digitale assistent døgnet rundt</text>
<text x="85.4" y="180.03" font-size="33.49" font-weight="400" fill="#111111" stroke="#111111" stroke-width="0.94" textLength="2607.5" lengthAdjust="spacingAndGlyphs">En AI-chatbot fungerer som en digital receptionist, der håndterer bookinger, besvarer spørgsmål og sender påmindelser, hvilket sikrer, at klinikken aldrig misser en patient.</text>
<text x="244.4" y="315.48" font-size="47.28" font-weight="700" fill="#f7f6f4" stroke="#f7f6f4" stroke-width="1.04" textLength="848.8" lengthAdjust="spacingAndGlyphs">Problemet: Den usynlige patientflugt</text>
<text x="1637.4" y="315.48" font-size="47.28" font-weight="700" fill="#111111" stroke="#111111" stroke-width="1.04" textLength="901.4" lengthAdjust="spacingAndGlyphs">Løsningen: AI-agenten der aldrig sover</text>
<text x="521.3" y="494.57" font-size="102.29" font-weight="700" fill="#f28c38" stroke="#f28c38" stroke-width="2.25" textLength="195.5" lengthAdjust="spacingAndGlyphs">62%</text>
<text x="737.9" y="447.25" font-size="40.53" font-weight="700" fill="#f7f6f4" stroke="#f7f6f4" stroke-width="0.89" textLength="315.9" lengthAdjust="spacingAndGlyphs">af henvendelser</text>
<text x="737.9" y="494.55" font-size="40.53" font-weight="700" fill="#f7f6f4" stroke="#f7f6f4" stroke-width="0.89" textLength="359.5" lengthAdjust="spacingAndGlyphs">sker efter lukketid</text>
<text x="520.4" y="547.36" font-size="31.1" font-weight="400" fill="#f7f6f4" stroke="#f7f6f4" stroke-width="0.87" textLength="582.1" lengthAdjust="spacingAndGlyphs">Sterstedelen af patienterne søger hjælp i</text>
<text x="520.4" y="583.86" font-size="31.1" font-weight="400" fill="#f7f6f4" stroke="#f7f6f4" stroke-width="0.87" textLength="570.9" lengthAdjust="spacingAndGlyphs">de timer, hvor receptionen er gået hjem.</text>
<text x="529.2" y="807.87" font-size="102.29" font-weight="700" fill="#f28c38" stroke="#f28c38" stroke-width="2.25" textLength="188.5" lengthAdjust="spacingAndGlyphs">47%</text>
<text x="737.0" y="727.55" font-size="40.53" font-weight="700" fill="#f7f6f4" stroke="#f7f6f4" stroke-width="0.89" textLength="273.3" lengthAdjust="spacingAndGlyphs">Responstid er</text>
<text x="739.0" y="774.25" font-size="40.53" font-weight="700" fill="#f7f6f4" stroke="#f7f6f4" stroke-width="0.89" textLength="345.1" lengthAdjust="spacingAndGlyphs">vigtigere end pris</text>
<text x="738.0" y="821.25" font-size="40.53" font-weight="700" fill="#f7f6f4" stroke="#f7f6f4" stroke-width="0.89" textLength="307.3" lengthAdjust="spacingAndGlyphs">og beliggenhed</text>
<text x="525.4" y="875.56" font-size="31.1" font-weight="400" fill="#f7f6f4" stroke="#f7f6f4" stroke-width="0.87" textLength="475.5" lengthAdjust="spacingAndGlyphs">af patienter vælger den klinik, der</text>
<text x="526.4" y="912.26" font-size="31.1" font-weight="400" fill="#f7f6f4" stroke="#f7f6f4" stroke-width="0.87" textLength="309.9" lengthAdjust="spacingAndGlyphs">svarer hurtigst online.</text>
<text x="91.3" y="922.43" font-size="24.12" font-weight="700" fill="#f7f6f4" stroke="#f7f6f4" stroke-width="0.53" textLength="135.4" lengthAdjust="spacingAndGlyphs">Hurtigt sver</text>
<text x="373.3" y="921.33" font-size="24.12" font-weight="700" fill="#f7f6f4" stroke="#f7f6f4" stroke-width="0.53" textLength="79.1" lengthAdjust="spacingAndGlyphs">Pris og</text>
<text x="342.0" y="949.33" font-size="24.12" font-weight="700" fill="#f7f6f4" stroke="#f7f6f4" stroke-width="0.53" textLength="143.0" lengthAdjust="spacingAndGlyphs">beliggenhed</text>
<text x="525.3" y="1031.68" font-size="28.95" font-weight="700" fill="#e0853d" stroke="#e0853d" stroke-width="0.64" textLength="112.1" lengthAdjust="spacingAndGlyphs">Op mod</text>
<text x="528.4" y="1109.11" font-size="81.06" font-weight="700" fill="#f28c38" stroke="#f28c38" stroke-width="1.78" textLength="164.8" lengthAdjust="spacingAndGlyphs">20%</text>
<text x="734.4" y="1058.55" font-size="40.53" font-weight="700" fill="#f7f6f4" stroke="#f7f6f4" stroke-width="0.89" textLength="444.5" lengthAdjust="spacingAndGlyphs">Udeblivelser koster op</text>
<text x="734.4" y="1105.35" font-size="40.53" font-weight="700" fill="#f7f6f4" stroke="#f7f6f4" stroke-width="0.89" textLength="518.5" lengthAdjust="spacingAndGlyphs">mod 20% af omsætningen</text>
<text x="528.4" y="1158.16" font-size="31.1" font-weight="400" fill="#f7f6f4" stroke="#f7f6f4" stroke-width="0.87" textLength="618.2" lengthAdjust="spacingAndGlyphs">Tomme stole pga. glemte tider er en massiv</text>
<text x="527.4" y="1193.56" font-size="31.1" font-weight="400" fill="#f7f6f4" stroke="#f7f6f4" stroke-width="0.87" textLength="535.5" lengthAdjust="spacingAndGlyphs">akonomisk byrde for danske klinikker.</text>
<text x="581.3" y="1259.34" font-size="23.64" font-weight="700" fill="#f7f6f4" stroke="#f7f6f4" stroke-width="0.52" textLength="158.8" lengthAdjust="spacingAndGlyphs">4.000.000 kr.</text>
<text x="916.3" y="1371.74" font-size="23.64" font-weight="700" fill="#f0b06a" stroke="#f0b06a" stroke-width="0.52" textLength="203.8" lengthAdjust="spacingAndGlyphs">Op til 800.000 kr.</text>
<text x="566.3" y="1461.73" font-size="24.12" font-weight="700" fill="#f7f6f4" stroke="#f7f6f4" stroke-width="0.53" textLength="188.2" lengthAdjust="spacingAndGlyphs">Årlig omsætning</text>
<text x="909.3" y="1461.73" font-size="24.12" font-weight="700" fill="#f7f6f4" stroke="#f7f6f4" stroke-width="0.53" textLength="217.2" lengthAdjust="spacingAndGlyphs">Potentiellt tab pga.</text>
<text x="2139.4" y="471.54" font-size="41.49" font-weight="700" fill="#111111" stroke="#111111" stroke-width="0.91" textLength="332.6" lengthAdjust="spacingAndGlyphs">24/7 Booking og</text>
<text x="2138.4" y="519.04" font-size="41.49" font-weight="700" fill="#111111" stroke="#111111" stroke-width="0.91" textLength="327.6" lengthAdjust="spacingAndGlyphs">FAQ-håndtering</text>
<text x="2138.3" y="571.17" font-size="30.62" font-weight="400" fill="#111111" stroke="#111111" stroke-width="0.86" textLength="553.3" lengthAdjust="spacingAndGlyphs">Patienter kan booke akuttider kl. 22:00</text>
<text x="2139.4" y="608.37" font-size="30.62" font-weight="400" fill="#111111" stroke="#111111" stroke-width="0.86" textLength="467.1" lengthAdjust="spacingAndGlyphs">og få svar på standardspørgsmål</text>
<text x="2140.4" y="645.57" font-size="30.62" font-weight="400" fill="#111111" stroke="#111111" stroke-width="0.86" textLength="176.8" lengthAdjust="spacingAndGlyphs">øjeblikkeligt.</text>
<text x="2138.3" y="854.87" font-size="75.27" font-weight="700" fill="#35a088" stroke="#35a088" stroke-width="1.66" textLength="361.3" lengthAdjust="spacingAndGlyphs">Op til 40%</text>
<text x="2138.4" y="919.55" font-size="40.53" font-weight="700" fill="#111111" stroke="#111111" stroke-width="0.89" textLength="429.0" lengthAdjust="spacingAndGlyphs">Reducér udeblivelser</text>
<text x="2140.4" y="979.27" font-size="30.62" font-weight="400" fill="#111111" stroke="#111111" stroke-width="0.86" textLength="496.3" lengthAdjust="spacingAndGlyphs">Automatiske AI-påmindelser sikrer,</text>
<text x="2139.4" y="1016.57" font-size="30.62" font-weight="400" fill="#111111" stroke="#111111" stroke-width="0.86" textLength="491.4" lengthAdjust="spacingAndGlyphs">at patienterne husker deres aftaler</text>
<text x="2139.4" y="1053.57" font-size="30.62" font-weight="400" fill="#111111" stroke="#111111" stroke-width="0.86" textLength="294.8" lengthAdjust="spacingAndGlyphs">og mindsker spildtid.</text>
<text x="2138.4" y="1261.04" font-size="41.49" font-weight="700" fill="#111111" stroke="#111111" stroke-width="0.91" textLength="468.6" lengthAdjust="spacingAndGlyphs">Implementering på kun</text>
<text x="2138.4" y="1308.14" font-size="41.49" font-weight="700" fill="#111111" stroke="#111111" stroke-width="0.91" textLength="232.1" lengthAdjust="spacingAndGlyphs">10 minutter</text>
<text x="2139.4" y="1359.27" font-size="30.62" font-weight="400" fill="#111111" stroke="#111111" stroke-width="0.86" textLength="475.2" lengthAdjust="spacingAndGlyphs">Chatbotten trænes automatisk på</text>
<text x="2138.4" y="1395.97" font-size="30.62" font-weight="400" fill="#111111" stroke="#111111" stroke-width="0.86" textLength="477.4" lengthAdjust="spacingAndGlyphs">klinikkens egen hjemmeside og er</text>
<text x="2138.3" y="1432.57" font-size="30.62" font-weight="400" fill="#111111" stroke="#111111" stroke-width="0.86" textLength="274.0" lengthAdjust="spacingAndGlyphs">hurtigt klar til brug.</text>
<text x="2587.6" y="1524.89" font-size="22.49" font-weight="400" fill="#111111" stroke="#111111" stroke-width="0.63" textLength="155.7" lengthAdjust="spacingAndGlyphs">NotebookLM</text>
</g>
</svg>
</body></html>
